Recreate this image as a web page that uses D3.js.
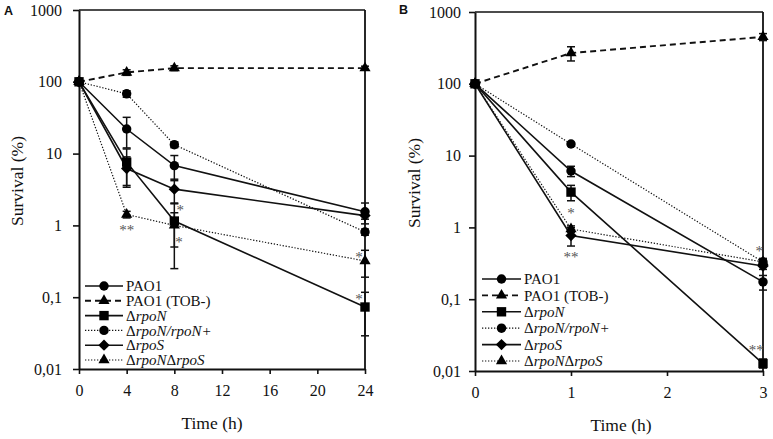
<!DOCTYPE html>
<html><head><meta charset="utf-8">
<script src="https://cdn.jsdelivr.net/npm/d3@7"></script>
<style>body{margin:0;background:#fff} svg{display:block} svg text{font-family:"Liberation Serif","Times New Roman",Times,serif}</style>
</head><body><svg id="c" width="773" height="439"></svg>
<script>
// ---------- data ----------
const timesA = [0, 4, 8, 24];
const timesB = [0, 1, 3];
const xTicksA = [0, 4, 8, 12, 16, 20, 24];
const xTicksB = [0, 1, 2, 3];
const yTicks = [0.01, 0.1, 1, 10, 100, 1000];
const yTickLabels = ["0,01", "0,1", "1", "10", "100", "1000"];
const seriesLabels = ["PAO1", "PAO1 (TOB-)", "ΔrpoN", "ΔrpoN/rpoN+", "ΔrpoS", "ΔrpoNΔrpoS"];

// Panel A (survival %)
const A_PAO1  = [100, 22, 6.8, 1.55];
const A_TOB   = [100, 135, 155, 155];
const A_rpoN  = [100, 7.6, 1.15, 0.073];
const A_rpoNc = [100, 68, 13.3, 0.81];
const A_rpoS  = [100, 6.2, 3.2, 1.37];
const A_dbl   = [100, 1.42, 1.0, 0.32];
// Panel A error (SD)
const A_PAO1_err  = [0, 10, 2.6, 0.5];
const A_TOB_err   = [0, 12, 12, 10];
const A_rpoN_err  = [0, 4, 0.9, 0.044];
const A_rpoNc_err = [0, 7, 1.2, 0.08];
const A_rpoS_err  = [0, 2.8, 1.2, 0.15];
const A_dbl_err   = [0, 0.15, 0.5, 0.13];

// Panel B (survival %)
const B_PAO1  = [100, 6.1, 0.174];
const B_TOB   = [100, 268, 450];
const B_rpoN  = [100, 3.1, 0.0127];
const B_rpoNc = [100, 14.5, 0.33];
const B_rpoS  = [100, 0.77, 0.29];
const B_dbl   = [100, 0.95, 0.33];
const B_PAO1_err  = [0, 1.0, 0.04];
const B_TOB_err   = [0, 60, 50];
const B_rpoN_err  = [0, 0.75, 0.002];
const B_rpoNc_err = [0, 0.8, 0.03];
const B_rpoS_err  = [0, 0.22, 0.03];
const B_dbl_err   = [0, 0.1, 0.04];

// significance annotations: [time, value, text]
const A_stars = [[4, 0.91, "**"], [8.5, 1.73, "*"], [8.4, 0.62, "*"], [23.5, 0.39, "*"], [23.5, 0.1, "*"]];
const B_stars = [[1, 1.72, "*"], [1, 0.42, "**"], [2.96, 0.5, "*"], [2.93, 0.021, "**"]];

// ---------- styles ----------
const seriesSymbols = ["circle", "triangle", "square", "circle", "diamond", "triangle"];
const seriesDash = ["solid", "dashed", "solid", "dotted", "solid", "dotted"];
const FONT = '"Liberation Serif","Times New Roman",Times,serif';

const svg = d3.select("#c");

const diamond = {draw(ctx, size){ const r = Math.sqrt(size/2); ctx.moveTo(0,-r); ctx.lineTo(r,0); ctx.lineTo(0,r); ctx.lineTo(-r,0); ctx.closePath(); }};
const symbolMap = {
  circle: d3.symbol(d3.symbolCircle, 70),
  triangle: d3.symbol(d3.symbolTriangle, 54),
  square: d3.symbol(d3.symbolSquare, 88),
  diamond: d3.symbol(diamond, 64)
};
function styleLine(sel, kind){
  if (kind === "solid") sel.attr("stroke-width", 1.6);
  else if (kind === "dashed") sel.attr("stroke-width", 1.9).attr("stroke-dasharray", "6,4");
  else sel.attr("stroke-width", 1.2).attr("stroke-dasharray", "1.3,1.7");
}
function labelParts(txt){
  const parts = [];
  const segs = txt.split("Δ");
  if (segs[0]) parts.push([segs[0], false]);
  for (let i = 1; i < segs.length; i++){ parts.push(["Δ", false]); if (segs[i]) parts.push([segs[i], true]); }
  return parts;
}

function panel(cfg){
  const g = svg.append("g").style("font-family", FONT);
  const x = d3.scaleLinear().domain(cfg.xDomain).range([cfg.left, cfg.right]);
  const y = d3.scaleLog().domain([0.01, 1000]).range([cfg.bottom, cfg.top]);

  g.append("line").attr("x1", cfg.left).attr("x2", cfg.right).attr("y1", cfg.top).attr("y2", cfg.top).attr("stroke", "#111").attr("stroke-width", 1.6);
  g.append("line").attr("x1", cfg.right).attr("x2", cfg.right).attr("y1", cfg.top).attr("y2", cfg.bottom).attr("stroke", "#111").attr("stroke-width", 1.8);

  const ya = g.append("g").attr("transform", `translate(${cfg.left},0)`)
    .call(d3.axisLeft(y).tickValues(yTicks).tickFormat((d, i) => yTickLabels[i]).tickSize(6).tickPadding(cfg.yPad).tickSizeOuter(0));
  const xa = g.append("g").attr("transform", `translate(0,${cfg.bottom})`)
    .call(d3.axisBottom(x).tickValues(cfg.xTicks).tickFormat(d3.format("d")).tickSize(5).tickPadding(11).tickSizeOuter(0));
  [ya, xa].forEach(a => {
    a.attr("font-family", null);
    a.selectAll("path").attr("stroke", "#111").attr("stroke-width", 2);
    a.selectAll("line").attr("stroke", "#111").attr("stroke-width", 1.6);
    a.selectAll("text").style("font-family", FONT).attr("font-size", 16).attr("fill", "#111");
  });

  g.append("text").attr("transform", `translate(${cfg.yTitleX},${cfg.yTitleY}) rotate(-90)`)
    .attr("text-anchor", "middle").attr("font-size", 17.5).attr("fill", "#111").text("Survival (%)");
  g.append("text").attr("x", cfg.xTitleX).attr("y", cfg.xTitleY)
    .attr("text-anchor", "middle").attr("font-size", 17.5).attr("fill", "#111").text("Time (h)");
  g.append("text").attr("x", cfg.labX).attr("y", cfg.labY).style("font-family", "'Liberation Sans',Arial,sans-serif")
    .attr("font-weight", "bold").attr("font-size", 12.5).attr("fill", "#111").text(cfg.label);

  cfg.series.forEach((vals, si) => {
    const pts = vals.map((v, i) => [cfg.times[i], v, cfg.errs[si][i]]);
    const ln = g.append("path").datum(pts)
      .attr("d", d3.line().x(d => x(d[0])).y(d => y(d[1])))
      .attr("fill", "none").attr("stroke", "#111");
    styleLine(ln, seriesDash[si]);
    pts.filter(d => d[2] > 0).forEach(d => {
      const lo = Math.max(d[1] - d[2], 0.011), hi = d[1] + d[2];
      const eg = g.append("g").attr("stroke", "#111").attr("stroke-width", 1.5);
      eg.append("line").attr("x1", x(d[0])).attr("x2", x(d[0])).attr("y1", y(lo)).attr("y2", y(hi));
      [lo, hi].forEach(v => eg.append("line").attr("x1", x(d[0]) - 4).attr("x2", x(d[0]) + 4).attr("y1", y(v)).attr("y2", y(v)));
    });
  });
  cfg.series.forEach((vals, si) => {
    g.append("g").selectAll("path").data(vals.map((v, i) => [cfg.times[i], v])).join("path")
      .attr("d", symbolMap[seriesSymbols[si]]())
      .attr("transform", d => `translate(${x(d[0])},${y(d[1])})`)
      .attr("fill", "#000");
  });

  g.append("g").selectAll("text").data(cfg.stars).join("text")
    .attr("x", d => x(d[0])).attr("y", d => y(d[1])).attr("dy", "0.47em")
    .attr("text-anchor", "middle").attr("font-size", 15).attr("fill", "#555").text(d => d[2]);

  const lg = g.append("g");
  seriesLabels.forEach((lab, si) => {
    const yy = cfg.legY + si * cfg.legStep;
    const l = lg.append("line").attr("x1", cfg.legX1).attr("x2", cfg.legX2).attr("y1", yy).attr("y2", yy).attr("stroke", "#111");
    styleLine(l, seriesDash[si]);
    lg.append("path").attr("d", symbolMap[seriesSymbols[si]]()).attr("transform", `translate(${(cfg.legX1 + cfg.legX2) / 2},${yy})`).attr("fill", "#000");
    const t = lg.append("text").attr("x", cfg.legX2 + 3).attr("y", yy).attr("dy", "0.35em").attr("font-size", 15).attr("fill", "#111");
    labelParts(lab).forEach(p => t.append("tspan").attr("font-style", p[1] ? "italic" : "normal").text(p[0]));
  });
}

panel({
  label: "A", labX: 4, labY: 15,
  times: timesA, xDomain: [0, 24], xTicks: xTicksA,
  left: 79, right: 365, top: 10, bottom: 369, yPad: 11,
  yTitleX: 23, yTitleY: 181, xTitleX: 212, xTitleY: 429,
  series: [A_PAO1, A_TOB, A_rpoN, A_rpoNc, A_rpoS, A_dbl],
  errs: [A_PAO1_err, A_TOB_err, A_rpoN_err, A_rpoNc_err, A_rpoS_err, A_dbl_err],
  stars: A_stars,
  legX1: 85, legX2: 123, legY: 286, legStep: 14.8
});
panel({
  label: "B", labX: 399, labY: 14,
  times: timesB, xDomain: [0, 3], xTicks: xTicksB,
  left: 475, right: 763, top: 12, bottom: 371, yPad: 8,
  yTitleX: 420, yTitleY: 183, xTitleX: 621, xTitleY: 431,
  series: [B_PAO1, B_TOB, B_rpoN, B_rpoNc, B_rpoS, B_dbl],
  errs: [B_PAO1_err, B_TOB_err, B_rpoN_err, B_rpoNc_err, B_rpoS_err, B_dbl_err],
  stars: B_stars,
  legX1: 482, legX2: 521, legY: 279, legStep: 16.4
});
</script>
</body></html>
